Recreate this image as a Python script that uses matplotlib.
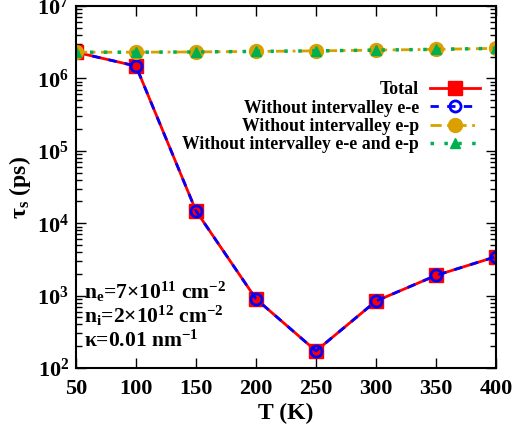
import numpy as np
import matplotlib
matplotlib.use("Agg")
import matplotlib.pyplot as plt
from matplotlib.ticker import LogLocator, NullFormatter

plt.rcParams['font.family'] = ['Liberation Serif', 'DejaVu Serif']
plt.rcParams['font.weight'] = 'bold'
plt.rcParams['mathtext.fontset'] = 'custom'
plt.rcParams['mathtext.rm'] = 'Liberation Serif:bold'
plt.rcParams['mathtext.it'] = 'Liberation Serif:bold'
plt.rcParams['mathtext.bf'] = 'Liberation Serif:bold'
plt.rcParams['mathtext.default'] = 'rm'

T = [50, 100, 150, 200, 250, 300, 350, 400]
tau_total = [2.3e6, 1.48e6, 1.48e4, 900, 172, 840, 1900, 3450]
tau_no_ee = [2.3e6, 1.48e6, 1.48e4, 900, 172, 840, 1900, 3450]
tau_no_ep = [2.3e6, 2.3e6, 2.32e6, 2.36e6, 2.4e6, 2.46e6, 2.52e6, 2.6e6]
tau_no_both = [2.3e6, 2.3e6, 2.32e6, 2.36e6, 2.4e6, 2.46e6, 2.52e6, 2.6e6]

labels = ['Total', 'Without intervalley e-e', 'Without intervalley e-p',
          'Without intervalley e-e and e-p']

fig = plt.figure(figsize=(5.3, 4.33), dpi=100)
ax = fig.add_axes([76/530, 1-368/433, 420/530, 362/433])

ax.plot(T, tau_total, color='red', lw=2, marker='s', ms=10, mec='red',
        label=labels[0])
ax.plot(T, tau_no_ee, color='blue', lw=2, ls=(0, (3, 3)), marker='o', ms=8,
        mfc='none', mec='blue', mew=2, label=labels[1])
ax.plot(T, tau_no_ep, color='#daa000', lw=2, ls=(0, (4, 2, 1, 2)), marker='o',
        ms=10, mec='#daa000', label=labels[2])
ax.plot(T, tau_no_both, color='#00b050', lw=2.5, ls=(0, (1, 3)), marker='^',
        ms=7, mec='#00b050', label=labels[3])

ax.set_yscale('log')
ax.set_xlim(50, 400)
ax.set_ylim(1e2, 1e7)
ax.set_xticks(T)
ax.yaxis.set_major_locator(LogLocator(base=10, numticks=10))
ax.yaxis.set_minor_locator(LogLocator(base=10, subs=np.arange(2, 10), numticks=10))
ax.yaxis.set_minor_formatter(NullFormatter())
ax.tick_params(which='both', direction='in', top=True, right=True,
               labelsize=16, width=1)
ax.tick_params(which='major', length=7)
ax.tick_params(which='minor', length=4)
ax.tick_params(axis='x', pad=8)
ax.tick_params(axis='y', pad=5)
for sp in ax.spines.values():
    sp.set_linewidth(1.5)

ax.set_xlabel('T (K)', fontsize=17, fontweight='bold', labelpad=3)
ax.set_ylabel(r'$\tau_{s}$ (ps)', fontsize=17, fontweight='bold', labelpad=3)

ax.legend(loc='upper right', bbox_to_anchor=(0.978, 0.812), frameon=False,
          markerfirst=False, handlelength=2.8,
          labelspacing=0.08, handletextpad=0.6, borderaxespad=0,
          prop={'weight': 'bold', 'size': 12.8})

ax.text(0.02, 0.21, r'n$_\mathrm{e}$=7$\times$10$^{11}$ cm$^{-2}$',
        transform=ax.transAxes, fontsize=15.5, fontweight='bold', va='center')
ax.text(0.02, 0.145, r'n$_\mathrm{i}$=2$\times$10$^{12}$ cm$^{-2}$',
        transform=ax.transAxes, fontsize=15.5, fontweight='bold', va='center')
ax.text(0.02, 0.075, r'$\kappa$=0.01 nm$^{-1}$',
        transform=ax.transAxes, fontsize=15.5, fontweight='bold', va='center')

fig.savefig('out.png', dpi=100)
